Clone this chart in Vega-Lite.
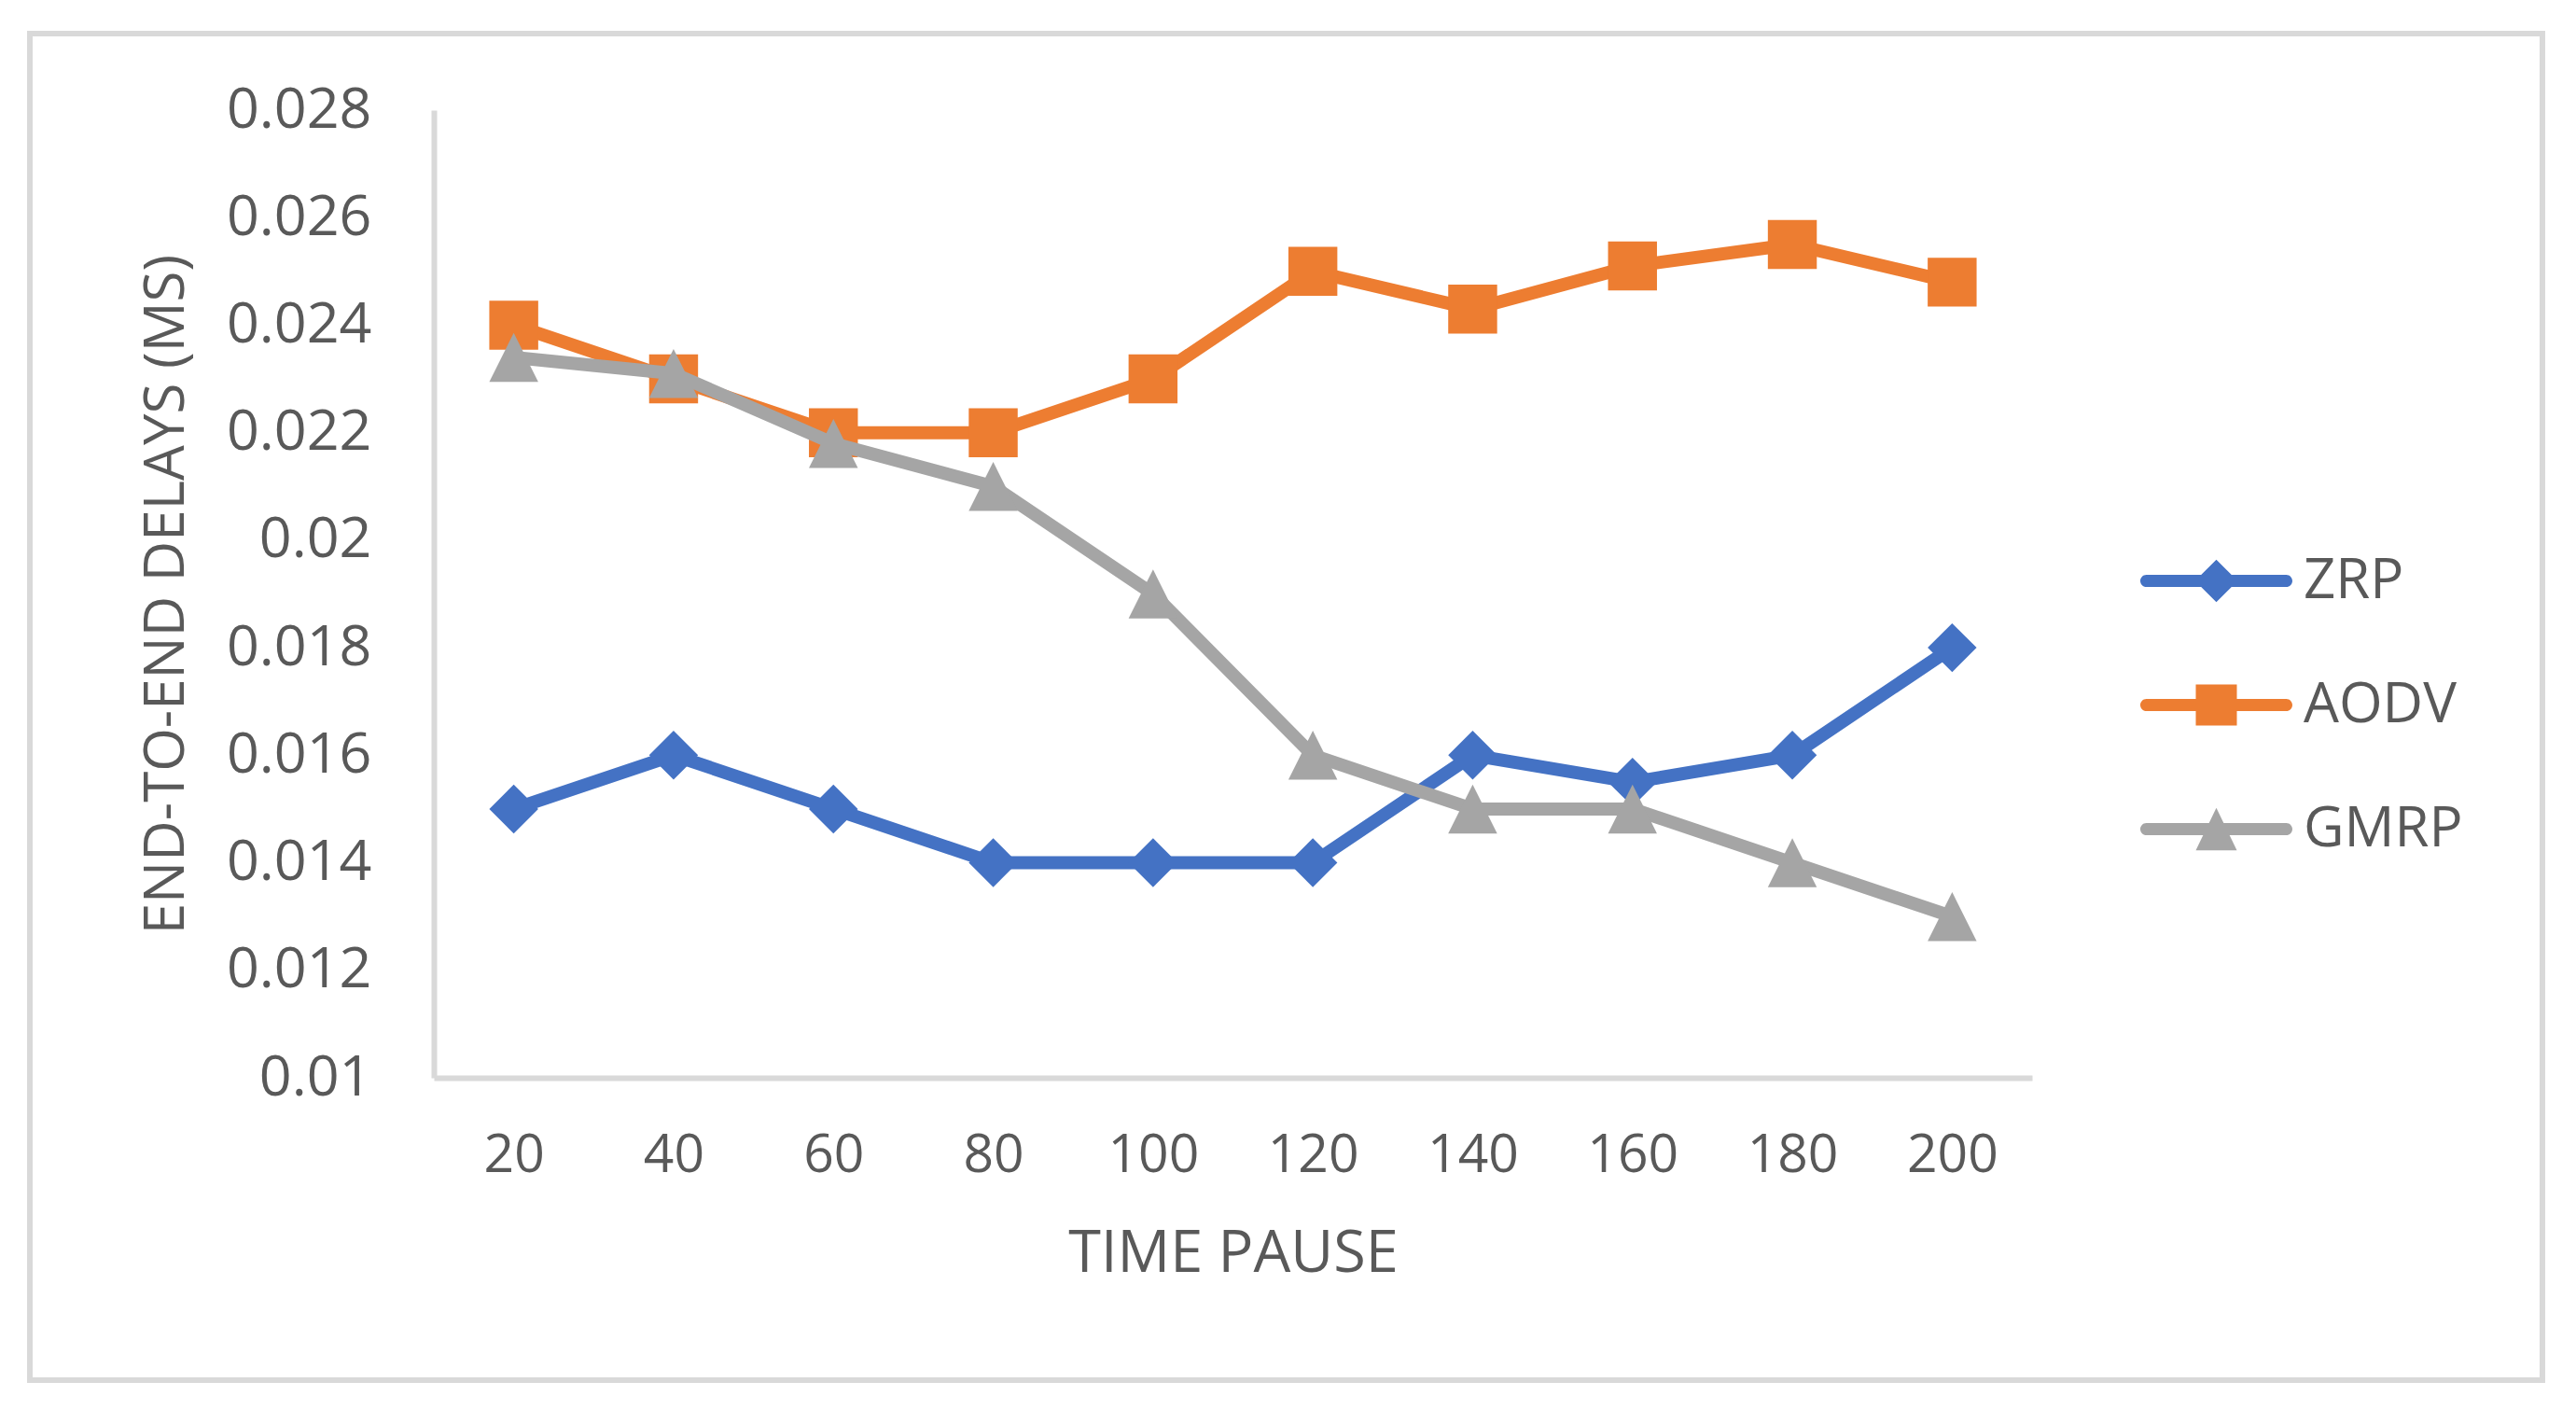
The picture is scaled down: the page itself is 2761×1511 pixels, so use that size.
{
  "$schema": "https://vega.github.io/schema/vega-lite/v6.json",
  "autosize": {"type": "none"},
  "padding": {"left": 32, "top": 36, "right": 36, "bottom": 32},
  "width": 2693,
  "height": 1443,
  "background": "white",
  "config": {
    "view": {"stroke": "#D9D9D9", "strokeWidth": 6},
    "font": "Open Sans"
  },
  "data": {
    "values": [
      {"pause": 20, "protocol": "ZRP", "delay": 0.015},
      {"pause": 40, "protocol": "ZRP", "delay": 0.016},
      {"pause": 60, "protocol": "ZRP", "delay": 0.015},
      {"pause": 80, "protocol": "ZRP", "delay": 0.014},
      {"pause": 100, "protocol": "ZRP", "delay": 0.014},
      {"pause": 120, "protocol": "ZRP", "delay": 0.014},
      {"pause": 140, "protocol": "ZRP", "delay": 0.016},
      {"pause": 160, "protocol": "ZRP", "delay": 0.0155},
      {"pause": 180, "protocol": "ZRP", "delay": 0.016},
      {"pause": 200, "protocol": "ZRP", "delay": 0.018},
      {"pause": 20, "protocol": "AODV", "delay": 0.024},
      {"pause": 40, "protocol": "AODV", "delay": 0.023},
      {"pause": 60, "protocol": "AODV", "delay": 0.022},
      {"pause": 80, "protocol": "AODV", "delay": 0.022},
      {"pause": 100, "protocol": "AODV", "delay": 0.023},
      {"pause": 120, "protocol": "AODV", "delay": 0.025},
      {"pause": 140, "protocol": "AODV", "delay": 0.0243},
      {"pause": 160, "protocol": "AODV", "delay": 0.0251},
      {"pause": 180, "protocol": "AODV", "delay": 0.0255},
      {"pause": 200, "protocol": "AODV", "delay": 0.0248},
      {"pause": 20, "protocol": "GMRP", "delay": 0.0234},
      {"pause": 40, "protocol": "GMRP", "delay": 0.0231},
      {"pause": 60, "protocol": "GMRP", "delay": 0.0218},
      {"pause": 80, "protocol": "GMRP", "delay": 0.021},
      {"pause": 100, "protocol": "GMRP", "delay": 0.019},
      {"pause": 120, "protocol": "GMRP", "delay": 0.016},
      {"pause": 140, "protocol": "GMRP", "delay": 0.015},
      {"pause": 160, "protocol": "GMRP", "delay": 0.015},
      {"pause": 180, "protocol": "GMRP", "delay": 0.014},
      {"pause": 200, "protocol": "GMRP", "delay": 0.013}
    ]
  },
  "encoding": {
    "x": {
      "field": "pause",
      "type": "ordinal",
      "scale": {"type": "point", "range": [433, 2146], "padding": 0.5},
      "axis": {
        "title": "TIME PAUSE",
        "offset": -324,
        "domainColor": "#D9D9D9",
        "domainWidth": 6,
        "ticks": false,
        "tickSize": 0,
        "grid": false,
        "labelAngle": 0,
        "labelFontSize": 57,
        "labelColor": "#595959",
        "labelPadding": 55,
        "titleFontSize": 63,
        "titleColor": "#595959",
        "titleFontWeight": "normal",
        "titleY": 207,
        "titleBaseline": "alphabetic"
      }
    },
    "y": {
      "field": "delay",
      "type": "quantitative",
      "scale": {"domain": [0.01, 0.028], "range": [1119, 82], "zero": false, "nice": false},
      "axis": {
        "title": "END-TO-END DELAYS (MS)",
        "offset": -433,
        "values": [0.01, 0.012, 0.014, 0.016, 0.018, 0.02, 0.022, 0.024, 0.026, 0.028],
        "format": "~g",
        "domainColor": "#D9D9D9",
        "domainWidth": 6,
        "ticks": false,
        "tickSize": 0,
        "grid": false,
        "labelFontSize": 61,
        "labelColor": "#595959",
        "labelPadding": 67,
        "titleFontSize": 60,
        "titleColor": "#595959",
        "titleFontWeight": "normal",
        "titleX": -269,
        "titleBaseline": "alphabetic"
      }
    },
    "color": {
      "field": "protocol",
      "type": "nominal",
      "scale": {"domain": ["ZRP", "AODV", "GMRP"], "range": ["#4472C4", "#ED7D31", "#A5A5A5"]},
      "legend": {
        "title": null,
        "orient": "none",
        "legendX": 2262,
        "legendY": 520,
        "padding": 0,
        "symbolSize": 26569,
        "clipHeight": 133,
        "rowPadding": 0,
        "labelFontSize": 60,
        "labelColor": "#595959",
        "labelOffset": 12,
        "labelLimit": 600,
        "labelBaseline": "middle",
        "encode": {
          "symbols": {
            "update": {
              "shape": {"signal": "datum.value === 'ZRP' ? 'M-0.92,-0.08L0.92,-0.08A0.08,0.08 0 0 1 0.92,0.08L-0.92,0.08A0.08,0.08 0 0 1 -0.92,-0.08Z M0,-0.28L0.28,0L0,0.28L-0.28,0Z' : datum.value === 'AODV' ? 'M-0.92,-0.08L0.92,-0.08A0.08,0.08 0 0 1 0.92,0.08L-0.92,0.08A0.08,0.08 0 0 1 -0.92,-0.08Z M-0.27,-0.27L0.27,-0.27L0.27,0.27L-0.27,0.27Z' : 'M-0.92,-0.08L0.92,-0.08A0.08,0.08 0 0 1 0.92,0.08L-0.92,0.08A0.08,0.08 0 0 1 -0.92,-0.08Z M0,-0.28L0.27,0.28L-0.27,0.28Z'"},
              "fill": {"scale": "color", "field": "value"},
              "stroke": {"value": "transparent"},
              "strokeWidth": {"value": 0},
              "opacity": {"value": 1},
              "size": {"value": 26569}
            }
          }
        }
      }
    }
  },
  "layer": [
    {
      "transform": [{"filter": "datum.protocol === 'ZRP'"}],
      "mark": {"type": "line", "strokeWidth": 14, "strokeJoin": "round", "strokeCap": "round"}
    },
    {
      "transform": [{"filter": "datum.protocol === 'ZRP'"}],
      "mark": {"type": "point", "filled": true, "opacity": 1, "size": 2750, "shape": "diamond", "strokeWidth": 0}
    },
    {
      "transform": [{"filter": "datum.protocol === 'AODV'"}],
      "mark": {"type": "line", "strokeWidth": 14, "strokeJoin": "round", "strokeCap": "round"}
    },
    {
      "transform": [{"filter": "datum.protocol === 'AODV'"}],
      "mark": {"type": "point", "filled": true, "opacity": 1, "size": 2750, "shape": "square", "strokeWidth": 0}
    },
    {
      "transform": [{"filter": "datum.protocol === 'GMRP'"}],
      "mark": {"type": "line", "strokeWidth": 14, "strokeJoin": "round", "strokeCap": "round"}
    },
    {
      "transform": [{"filter": "datum.protocol === 'GMRP'"}],
      "mark": {"type": "point", "filled": true, "opacity": 1, "size": 2750, "shape": "M-1,1L0,-1L1,1Z", "strokeWidth": 0}
    }
  ]
}
